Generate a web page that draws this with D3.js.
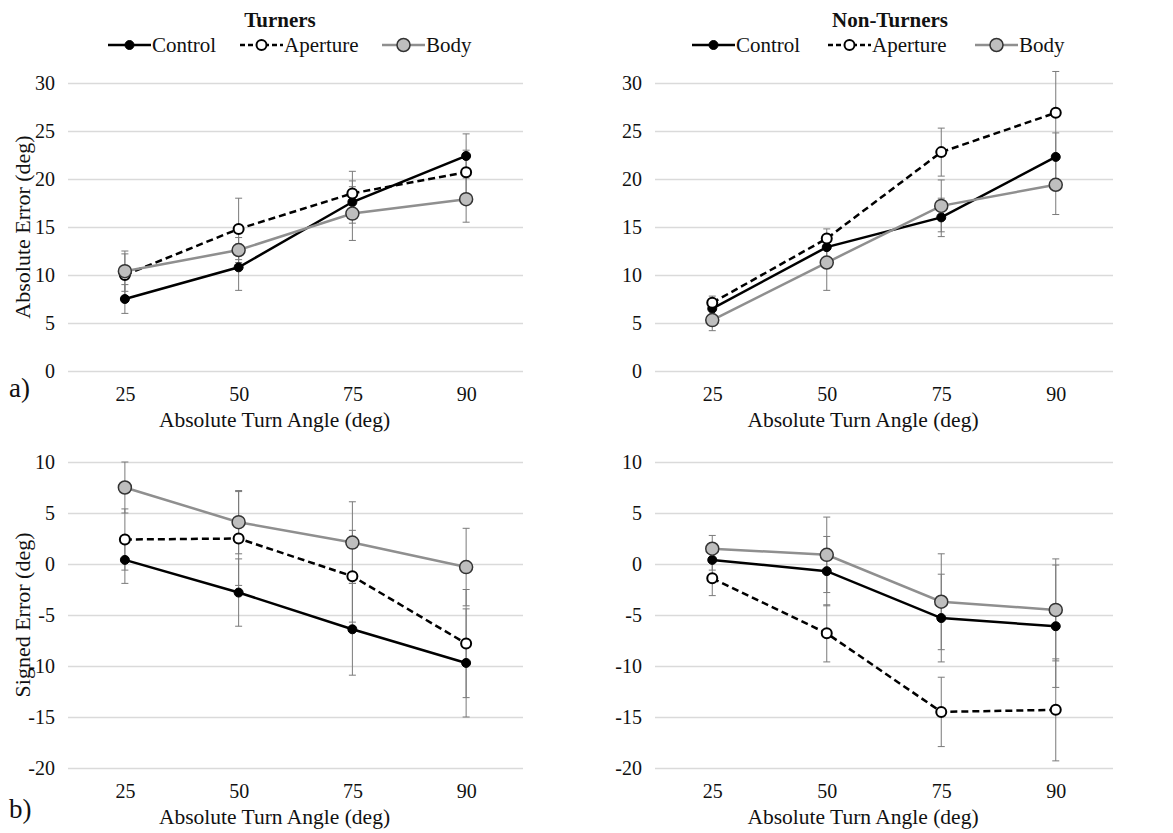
<!DOCTYPE html>
<html>
<head>
<meta charset="utf-8">
<script src="https://cdn.jsdelivr.net/npm/d3@7"></script>
<style>
  body { margin: 0; background: #fff; }
  svg text { font-family: "Liberation Serif", "Times New Roman", serif; fill: #111; }
</style>
</head>
<body>
<svg width="1173" height="833"></svg>
<script>
// turn angles on the x axis
var angles = ["25", "50", "75", "90"];
var seriesNames = ["Control", "Aperture", "Body"];

// rows: Control, Aperture, Body
var turnersAbsMean = [
    [7.5, 10.8, 17.6, 22.4],
    [10.0, 14.8, 18.5, 20.7],
    [10.4, 12.6, 16.4, 17.9]
];
var turnersAbsErr = [
    [1.5, 2.4, 2.2, 2.3],
    [2.2, 3.2, 2.3, 2.3],
    [2.1, 1.3, 2.8, 2.4]
];
var nonTurnersAbsMean = [
    [6.5, 12.9, 16.0, 22.3],
    [7.1, 13.8, 22.8, 26.9],
    [5.3, 11.3, 17.2, 19.4]
];
var nonTurnersAbsErr = [
    [0.8, 1.2, 2.0, 2.5],
    [0.7, 1.0, 2.5, 4.3],
    [1.1, 2.9, 2.7, 3.1]
];
var turnersSignedMean = [
    [0.4, -2.8, -6.4, -9.7],
    [2.4, 2.5, -1.2, -7.8],
    [7.5, 4.1, 2.1, -0.3]
];
var turnersSignedErr = [
    [2.3, 3.3, 4.5, 5.3],
    [3.0, 4.6, 4.5, 5.3],
    [2.5, 3.1, 4.0, 3.8]
];
var nonTurnersSignedMean = [
    [0.4, -0.7, -5.3, -6.1],
    [-1.4, -6.8, -14.5, -14.3],
    [1.5, 0.9, -3.7, -4.5]
];
var nonTurnersSignedErr = [
    [1.0, 3.4, 4.3, 6.0],
    [1.7, 2.8, 3.4, 5.0],
    [1.3, 3.7, 4.7, 5.0]
];

var absTicks = [0, 5, 10, 15, 20, 25, 30];
var signedTicks = [-20, -15, -10, -5, 0, 5, 10];

var styles = [
    {line: "#000", dash: null, fill: "#000", stroke: "#000", r: 4.5, sw: 1},
    {line: "#000", dash: "7,4", fill: "#fff", stroke: "#000", r: 5, sw: 2},
    {line: "#8f8f8f", dash: null, fill: "#bebebe", stroke: "#333", r: 6.5, sw: 1.5}
];

var svg = d3.select("svg");

var panels = [
    {mean: turnersAbsMean, err: turnersAbsErr, ticks: absTicks, x0: 68, x1: 523, y0: 371, y1: 83},
    {mean: nonTurnersAbsMean, err: nonTurnersAbsErr, ticks: absTicks, x0: 655, x1: 1113, y0: 371, y1: 83},
    {mean: turnersSignedMean, err: turnersSignedErr, ticks: signedTicks, x0: 68, x1: 523, y0: 768, y1: 462},
    {mean: nonTurnersSignedMean, err: nonTurnersSignedErr, ticks: signedTicks, x0: 655, x1: 1113, y0: 768, y1: 462}
];

panels.forEach(function(p) {
    var x = d3.scalePoint().domain(angles).range([p.x0, p.x1]).padding(0.5);
    var y = d3.scaleLinear().domain(d3.extent(p.ticks)).range([p.y0, p.y1]);
    var g = svg.append("g");

    // gridlines + y labels (plain hyphen for negatives, like the original)
    var ya = g.append("g")
        .attr("transform", "translate(" + p.x0 + ",0)")
        .call(d3.axisLeft(y).tickValues(p.ticks)
            .tickFormat(function(d) { return String(d); })
            .tickSize(-(p.x1 - p.x0)).tickPadding(13));
    ya.select(".domain").remove();
    ya.selectAll("line").attr("stroke", "#dadada").attr("stroke-width", 1.5);
    ya.selectAll("text").style("font-size", "20px").attr("fill", "#111");

    var xa = g.append("g")
        .attr("transform", "translate(0," + p.y0 + ")")
        .call(d3.axisBottom(x).tickSize(0).tickPadding(16));
    xa.select(".domain").remove();
    xa.selectAll("text").style("font-size", "20px").attr("fill", "#111");

    g.append("text")
        .attr("x", (p.x0 + p.x1) / 2 - 21)
        .attr("y", p.y0 + 56)
        .attr("text-anchor", "middle")
        .style("font-size", "21.5px")
        .text("Absolute Turn Angle (deg)");

    var rows = p.mean.map(function(vals, i) {
        return {
            id: i,
            values: vals.map(function(v, j) {
                return {a: angles[j], v: v, e: p.err[i][j]};
            })
        };
    });

    // error bars
    rows.forEach(function(row) {
        var eb = g.append("g").attr("stroke", "#7a7a7a").attr("stroke-width", 1);
        eb.selectAll(".bar").data(row.values).enter().append("line")
            .attr("x1", function(d) { return x(d.a); })
            .attr("x2", function(d) { return x(d.a); })
            .attr("y1", function(d) { return y(d.v - d.e); })
            .attr("y2", function(d) { return y(d.v + d.e); });
        [-1, 1].forEach(function(s) {
            eb.selectAll(".cap" + s).data(row.values).enter().append("line")
                .attr("x1", function(d) { return x(d.a) - 3.5; })
                .attr("x2", function(d) { return x(d.a) + 3.5; })
                .attr("y1", function(d) { return y(d.v + s * d.e); })
                .attr("y2", function(d) { return y(d.v + s * d.e); });
        });
    });

    var line = d3.line()
        .x(function(d) { return x(d.a); })
        .y(function(d) { return y(d.v); });

    rows.forEach(function(row) {
        var st = styles[row.id];
        g.append("path")
            .attr("d", line(row.values))
            .attr("fill", "none")
            .attr("stroke", st.line)
            .attr("stroke-width", 2.5)
            .attr("stroke-dasharray", st.dash);
        g.selectAll(".pt" + row.id).data(row.values).enter().append("circle")
            .attr("cx", function(d) { return x(d.a); })
            .attr("cy", function(d) { return y(d.v); })
            .attr("r", st.r)
            .attr("fill", st.fill)
            .attr("stroke", st.stroke)
            .attr("stroke-width", st.sw);
    });
});

// y axis titles
[["Absolute Error (deg)", 227], ["Signed Error (deg)", 615]].forEach(function(t) {
    svg.append("text")
        .attr("transform", "translate(30," + t[1] + ") rotate(-90)")
        .attr("text-anchor", "middle")
        .style("font-size", "22px")
        .text(t[0]);
});

// panel letters
svg.append("text").attr("x", 9).attr("y", 397).style("font-size", "27px").text("a)");
svg.append("text").attr("x", 9).attr("y", 818).style("font-size", "27px").text("b)");

// titles and legends
var heads = [
    {title: "Turners", cx: 280, lx: [108, 240, 382]},
    {title: "Non-Turners", cx: 890, lx: [692, 828, 975]}
];
heads.forEach(function(h) {
    svg.append("text")
        .attr("x", h.cx)
        .attr("y", 27)
        .attr("text-anchor", "middle")
        .style("font-size", "21px")
        .style("font-weight", "bold")
        .text(h.title);

    seriesNames.forEach(function(name, i) {
        var st = styles[i], x0 = h.lx[i], w = 43;
        var lg = svg.append("g");
        lg.append("line")
            .attr("x1", x0).attr("x2", x0 + w)
            .attr("y1", 45).attr("y2", 45)
            .attr("stroke", st.line)
            .attr("stroke-width", 2.5)
            .attr("stroke-dasharray", i == 1 ? "5,3" : null);
        lg.append("circle")
            .attr("cx", x0 + w / 2).attr("cy", 45)
            .attr("r", st.r)
            .attr("fill", st.fill)
            .attr("stroke", st.stroke)
            .attr("stroke-width", st.sw);
        lg.append("text")
            .attr("x", x0 + w + 1)
            .attr("y", 52)
            .style("font-size", "21px")
            .text(name);
    });
});
</script>
</body>
</html>
